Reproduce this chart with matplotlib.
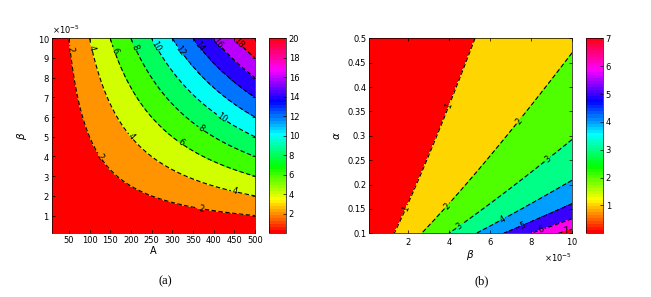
import numpy as np
import matplotlib
matplotlib.use("Agg")
import matplotlib.pyplot as plt
from matplotlib.colors import Normalize
from matplotlib.cm import ScalarMappable
from matplotlib.ticker import ScalarFormatter

# panel (a): field over A and beta
A_range = [10, 500]
beta_range_a = [1e-6, 1e-4]
a_coef = 400.0
levels_a = [0, 2, 4, 6, 8, 10, 12, 14, 16, 18, 20]
cbar_ticks_a = [2, 4, 6, 8, 10, 12, 14, 16, 18, 20]
xticks_a = [50, 100, 150, 200, 250, 300, 350, 400, 450, 500]
yticks_a = [1e-5, 2e-5, 3e-5, 4e-5, 5e-5, 6e-5, 7e-5, 8e-5, 9e-5, 10e-5]
# contour labels: (level, A where the label sits)
labels_a = [(2, 53), (2, 125), (2, 370), (4, 105), (4, 200), (4, 450),
            (6, 160), (6, 320), (8, 210), (8, 370), (10, 260), (10, 420),
            (12, 320), (14, 365), (16, 410), (18, 460)]

# panel (b): field over beta and alpha
beta_range_b = [1e-6, 1e-4]
alpha_range = [0.1, 0.5]
b_coef = 0.75e5                     # Z at alpha=0.1 grows linearly with beta
b_alpha_ref = 0.1
b_power = 0.854                     # fall-off with alpha
levels_b = [0, 1, 2, 3, 4, 5, 6, 7, 8]
cbar_ticks_b = [1, 2, 3, 4, 5, 6, 7]
xticks_b = [2e-5, 4e-5, 6e-5, 8e-5, 10e-5]
yticks_b = [0.1, 0.15, 0.2, 0.25, 0.3, 0.35, 0.4, 0.45, 0.5]
# contour labels: (level, beta where the label sits)
labels_b = [(1, 4.0e-5), (1, 1.9e-5), (2, 7.4e-5), (2, 3.9e-5), (3, 8.8e-5),
            (3, 4.5e-5), (4, 6.6e-5), (5, 7.6e-5), (6, 8.5e-5), (7, 9.7e-5)]

cmap = plt.get_cmap("hsv")
W, H = 651, 297
fig = plt.figure(figsize=(W / 100, H / 100), dpi=100)
dash = (0, (4, 2.2))


def box(x0, y0, x1, y1):
    return [x0 / W, 1 - y1 / H, (x1 - x0) / W, (y1 - y0) / H]


def band_colors(levels, vmax):
    cols = [cmap(lv / vmax) for lv in levels[:-1]]
    cols[-1] = cmap(1.0)
    return cols


def style_axes(ax):
    ax.tick_params(direction="in", length=2, width=0.5, labelsize=6,
                   top=True, right=True, pad=2)
    for s in ax.spines.values():
        s.set_linewidth(0.5)


def sci_formatter():
    f = ScalarFormatter(useMathText=True)
    f.set_powerlimits((-5, -5))
    return f


# ---- (a)
ax1 = fig.add_axes(box(52.3, 38.3, 255, 233.3))
A = np.linspace(A_range[0], A_range[1], 400)
B = np.linspace(beta_range_a[0], beta_range_a[1], 400)
AA, BB = np.meshgrid(A, B)
Z1 = a_coef * AA * BB
ax1.contourf(AA, BB, Z1, levels=levels_a[:-1] + [1e3], colors=band_colors(levels_a, 20))
cs1 = ax1.contour(AA, BB, Z1, levels=levels_a[1:-1], colors="k",
                  linestyles=[dash], linewidths=0.8)
pos_a = [(a, lv / (a_coef * a)) for lv, a in labels_a]
ax1.clabel(cs1, fontsize=6, fmt="%d", inline=True, inline_spacing=1, manual=pos_a)
ax1.set_xlim(A_range)
ax1.set_ylim(beta_range_a)
ax1.set_xticks(xticks_a)
ax1.set_yticks(yticks_a)
ax1.yaxis.set_major_formatter(sci_formatter())
ax1.yaxis.get_offset_text().set_fontsize(6)
ax1.set_xlabel("A", fontsize=7, labelpad=1)
ax1.set_ylabel(r"$\beta$", fontsize=7.5, labelpad=6)
style_axes(ax1)

cax1 = fig.add_axes(box(269.3, 38.3, 286, 233.3))
cb1 = fig.colorbar(ScalarMappable(norm=Normalize(0, 20), cmap=plt.get_cmap("hsv", 64)), cax=cax1)
cb1.set_ticks(cbar_ticks_a)
cb1.ax.tick_params(direction="in", length=2, width=0.5, labelsize=6, pad=2)
cb1.outline.set_linewidth(0.5)

# ---- (b)
ax2 = fig.add_axes(box(369, 38.3, 572, 233.3))
Bb = np.linspace(beta_range_b[0], beta_range_b[1], 400)
Al = np.linspace(alpha_range[0], alpha_range[1], 400)
BB2, AL = np.meshgrid(Bb, Al)
Z2 = b_coef * BB2 * (AL / b_alpha_ref) ** (-b_power)
ax2.contourf(BB2, AL, Z2, levels=levels_b[:-1] + [1e3], colors=band_colors(levels_b, 7))
cs2 = ax2.contour(BB2, AL, Z2, levels=levels_b[1:-1], colors="k",
                  linestyles=[dash], linewidths=0.8)
pos_b = [(b, b_alpha_ref * (b_coef * b / lv) ** (1 / b_power)) for lv, b in labels_b]
ax2.clabel(cs2, fontsize=6, fmt="%d", inline=True, inline_spacing=1, manual=pos_b)
ax2.set_xlim(beta_range_b)
ax2.set_ylim(alpha_range)
ax2.set_xticks(xticks_b)
ax2.set_yticks(yticks_b)
ax2.set_yticklabels([f"{v:g}" for v in yticks_b])
ax2.xaxis.set_major_formatter(sci_formatter())
ax2.xaxis.get_offset_text().set_fontsize(6)
ax2.set_xlabel(r"$\beta$", fontsize=7.5, labelpad=1)
ax2.set_ylabel(r"$\alpha$", fontsize=7.5, labelpad=4)
style_axes(ax2)

cax2 = fig.add_axes(box(586, 38.3, 603, 233.3))
cb2 = fig.colorbar(ScalarMappable(norm=Normalize(0, 7), cmap=plt.get_cmap("hsv", 64)), cax=cax2)
cb2.set_ticks(cbar_ticks_b)
cb2.ax.tick_params(direction="in", length=2, width=0.5, labelsize=6, pad=2)
cb2.outline.set_linewidth(0.5)

# captions
fig.text(165 / W, 1 - 281 / H, "(a)", ha="center", va="center",
         fontsize=9, family="Liberation Serif")
fig.text(482 / W, 1 - 281 / H, "(b)", ha="center", va="center",
         fontsize=9, family="Liberation Serif")

fig.savefig("out.png", dpi=100)
